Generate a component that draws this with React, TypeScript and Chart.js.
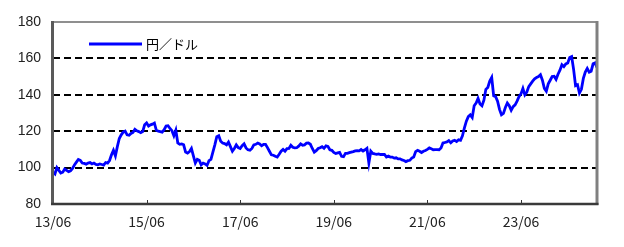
import React, { useEffect, useRef } from 'react';
import { Chart, registerables } from 'chart.js';

Chart.register(...registerables);

// Semi-monthly USD/JPY (first half, second half of each month), from 2013/06
const usdjpy2013 = [97.5, 96.5, 100.0, 98.5, 97.0, 97.5, 99.2, 98.5, 97.8, 98.2, 99.5, 101.5, 103.0, 104.5];
const usdjpy2014 = [104.0, 102.5, 102.3, 101.9, 102.5, 102.8, 102.0, 102.5, 101.8, 101.6, 102.0, 101.7, 101.4, 102.8, 102.5, 103.9, 107.0, 109.5, 106.5, 111.5, 116.0, 118.0, 119.5, 120.0];
const usdjpy2015 = [118.0, 117.8, 118.8, 119.3, 121.0, 120.2, 119.8, 119.2, 119.8, 123.5, 124.5, 122.8, 123.5, 123.9, 124.5, 120.5, 120.0, 119.8, 119.5, 120.8, 122.8, 123.0, 121.5, 120.3];
const usdjpy2016 = [117.5, 120.5, 113.5, 112.8, 113.0, 112.5, 108.5, 108.0, 108.8, 110.5, 106.5, 102.5, 104.5, 104.0, 101.5, 102.5, 102.0, 101.2, 103.8, 104.5, 108.5, 112.5, 117.0, 117.5];
const usdjpy2017 = [114.5, 113.5, 113.2, 112.5, 114.0, 111.5, 109.0, 110.5, 112.5, 111.0, 110.5, 112.0, 113.0, 110.8, 109.8, 109.5, 110.5, 112.5, 112.8, 113.5, 113.0, 112.0, 112.8, 112.8];
const usdjpy2018 = [111.0, 109.0, 107.0, 106.8, 106.2, 105.8, 107.3, 109.0, 110.0, 109.0, 110.4, 110.5, 112.3, 111.2, 110.8, 110.9, 111.8, 113.0, 112.3, 112.5, 113.4, 113.5, 112.8, 110.5];
const usdjpy2019 = [108.5, 109.3, 110.5, 110.9, 111.5, 110.6, 111.9, 111.6, 109.8, 109.5, 108.3, 107.7, 108.1, 108.4, 106.2, 106.0, 107.8, 107.8, 108.2, 108.5, 108.8, 109.2, 109.3, 109.2];
const usdjpy2020 = [109.9, 109.1, 109.8, 110.6, 102.5, 109.0, 107.8, 107.5, 107.3, 107.5, 107.2, 107.2, 107.2, 105.8, 106.3, 105.8, 105.8, 105.2, 105.4, 104.8, 104.8, 104.2, 103.9, 103.3];
const usdjpy2021 = [103.8, 104.0, 105.2, 105.8, 108.8, 109.5, 109.0, 108.3, 109.0, 109.4, 110.0, 110.8, 110.3, 109.8, 109.9, 109.9, 109.8, 110.8, 113.5, 113.8, 114.1, 114.8, 113.6, 114.6];
const usdjpy2022 = [115.0, 114.3, 115.3, 115.0, 117.5, 121.8, 125.5, 128.0, 129.0, 127.5, 134.0, 135.5, 138.0, 135.0, 134.0, 137.0, 143.0, 144.0, 147.5, 149.5, 139.5, 139.0, 136.5, 132.0];
const usdjpy2023 = [129.0, 129.8, 133.0, 135.5, 134.0, 131.5, 133.5, 134.5, 136.5, 139.0, 140.5, 143.5, 140.0, 141.5, 144.5, 146.0, 147.5, 148.8, 149.5, 150.0, 151.0, 148.0, 143.5, 142.0];
const usdjpy2024 = [146.0, 148.0, 150.0, 150.2, 148.5, 151.3, 153.5, 156.5, 155.5, 157.0, 157.5, 160.5, 161.0, 154.0, 145.0, 145.5, 141.0, 143.0, 149.0, 152.5, 154.5, 152.5, 153.0, 157.0];
const usdjpy2025 = [157.5, 155.0];

const usdjpy = [
  ...usdjpy2013, ...usdjpy2014, ...usdjpy2015, ...usdjpy2016, ...usdjpy2017,
  ...usdjpy2018, ...usdjpy2019, ...usdjpy2020, ...usdjpy2021, ...usdjpy2022,
  ...usdjpy2023, ...usdjpy2024, ...usdjpy2025,
];

const xTickMonths = [0, 24, 48, 72, 96, 120];
const xTickLabels = ['13/06', '15/06', '17/06', '19/06', '21/06', '23/06'];
const yGridValues = [100, 120, 140, 160];
const seriesName = '円／ドル';

const framePlugin = {
  id: 'framePlugin',
  afterDatasetsDraw(chart: any) {
    const { ctx, chartArea } = chart;
    const { left, right, top, bottom } = chartArea;
    const xs = chart.scales.x;
    ctx.save();
    // inner ticks on x axis
    ctx.strokeStyle = '#333';
    ctx.lineWidth = 1;
    xTickMonths.forEach((m) => {
      const px = Math.round(xs.getPixelForValue(m)) + 0.5;
      ctx.beginPath();
      ctx.moveTo(px, bottom);
      ctx.lineTo(px, bottom - 4);
      ctx.stroke();
    });
    // top border
    ctx.strokeStyle = '#8f8f8f';
    ctx.lineWidth = 2;
    ctx.beginPath();
    ctx.moveTo(left, top);
    ctx.lineTo(right, top);
    ctx.stroke();
    // right border
    ctx.strokeStyle = '#808080';
    ctx.lineWidth = 3;
    ctx.beginPath();
    ctx.moveTo(right, top - 1);
    ctx.lineTo(right, bottom + 1);
    ctx.stroke();
    // left border
    ctx.strokeStyle = '#5a5a5a';
    ctx.lineWidth = 3;
    ctx.beginPath();
    ctx.moveTo(left - 0.5, top - 1);
    ctx.lineTo(left - 0.5, bottom + 1);
    ctx.stroke();
    // bottom border
    ctx.strokeStyle = '#3a3a3a';
    ctx.lineWidth = 2.5;
    ctx.beginPath();
    ctx.moveTo(left - 2, bottom);
    ctx.lineTo(right + 1.5, bottom);
    ctx.stroke();
    // legend
    ctx.strokeStyle = '#0000ff';
    ctx.lineWidth = 3;
    ctx.beginPath();
    ctx.moveTo(89, 44);
    ctx.lineTo(142, 44);
    ctx.stroke();
    ctx.fillStyle = '#000';
    ctx.font = '13px "Noto Sans CJK JP", sans-serif';
    ctx.textBaseline = 'middle';
    ctx.textAlign = 'left';
    ctx.fillText(seriesName, 146, 44);
    ctx.restore();
  },
};

export default function App() {
  const canvasRef = useRef<HTMLCanvasElement | null>(null);

  useEffect(() => {
    const canvas = canvasRef.current;
    if (!canvas) return;
    const points = usdjpy.map((v, i) => ({ x: i / 2, y: v }));
    const chart = new Chart(canvas, {
      type: 'line',
      data: {
        datasets: [
          {
            label: seriesName,
            data: points,
            borderColor: '#0000ff',
            borderWidth: 2.8,
            pointRadius: 0,
            tension: 0,
            fill: false,
          },
        ],
      },
      options: {
        responsive: false,
        animation: false,
        events: [],
        layout: { padding: { top: 22, right: 27, left: 0, bottom: 0 } },
        plugins: {
          legend: { display: false },
          tooltip: { enabled: false },
        },
        scales: {
          x: {
            type: 'linear',
            min: 0,
            max: (usdjpy.length - 1) / 2,
            afterFit: (s: any) => { s.height = 43; },
            afterBuildTicks: (s: any) => { s.ticks = xTickMonths.map((v) => ({ value: v })); },
            grid: { display: false, drawTicks: false },
            border: { display: false },
            ticks: {
              autoSkip: false,
              maxRotation: 0,
              padding: 9,
              color: '#222',
              font: { family: '"Noto Sans CJK JP", sans-serif', size: 14 },
              callback: (v: any) => {
                const idx = xTickMonths.indexOf(Number(v));
                return idx >= 0 ? xTickLabels[idx] : '';
              },
            },
          },
          y: {
            min: 80,
            max: 180,
            afterFit: (s: any) => { s.width = 53; },
            grid: {
              drawTicks: false,
              lineWidth: 2,
              color: (c: any) => (yGridValues.includes(c.tick?.value) ? '#000' : 'rgba(0,0,0,0)'),
            },
            border: { display: false, dash: [7, 4] },
            ticks: {
              stepSize: 20,
              padding: 12,
              color: '#222',
              font: { family: '"Liberation Sans", Arial, sans-serif', size: 14 },
            },
          },
        },
      },
      plugins: [framePlugin],
    });
    return () => chart.destroy();
  }, []);

  return (
    <div style={{ position: 'absolute', left: 0, top: 0, width: 624, height: 247, background: '#fff' }}>
      <canvas ref={canvasRef} width={624} height={247} style={{ display: 'block', width: 624, height: 247 }} />
    </div>
  );
}
